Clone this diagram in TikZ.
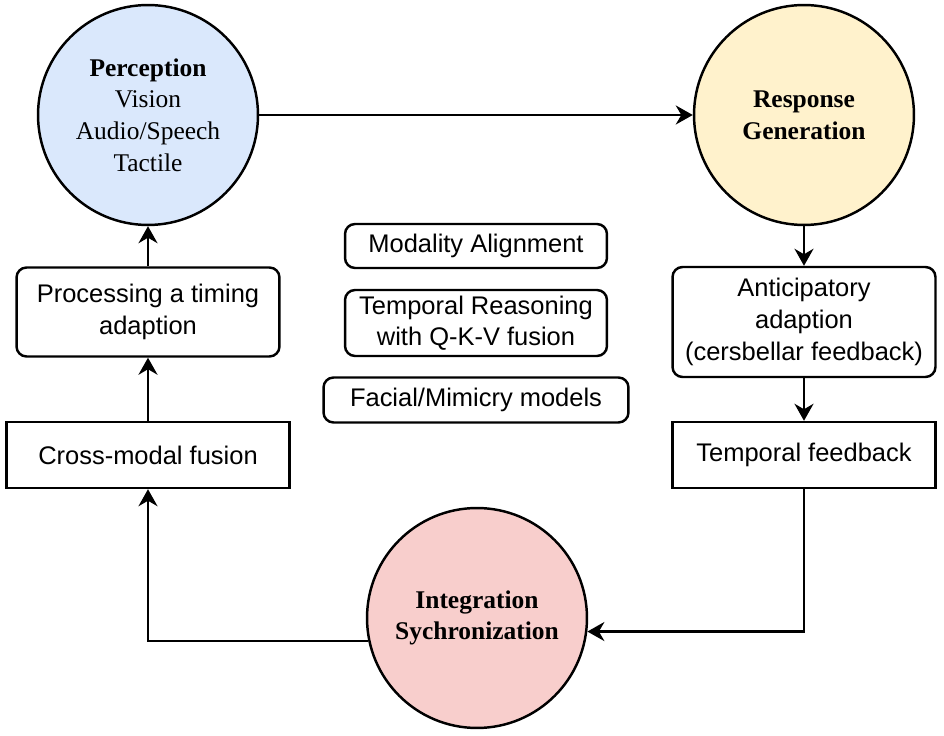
\documentclass[tikz,border=0pt]{standalone}
\usepackage{fontspec}
\setmainfont{Liberation Serif}
\setsansfont{Liberation Sans}
\usetikzlibrary{arrows.meta}
\definecolor{percblue}{HTML}{DAE8FC}
\definecolor{respyellow}{HTML}{FFF2CC}
\definecolor{integred}{HTML}{F8CECC}

\begin{document}
\begin{tikzpicture}[x=0.02cm,y=-0.02cm,line width=1.4pt,
  arr/.style={line width=1.4pt,-{Stealth[length=3.4mm,width=3.8mm,inset=1.1mm]}},
  stage/.style={circle,draw,line width=1.4pt,minimum size=4.4cm,inner sep=0pt,align=center,
    font=\fontsize{14.5}{18}\selectfont},
  rbox/.style={draw,rounded corners=2mm,line width=1.4pt,inner sep=0pt,align=center,
    font=\sffamily\fontsize{14.5}{18}\selectfont},
  sbox/.style={draw,line width=1.4pt,inner sep=0pt,align=center,
    font=\sffamily\fontsize{14.5}{18}\selectfont}]
\useasboundingbox (0,0) rectangle (944,736);
% ---------- stages ----------
\node[stage,fill=percblue] (perc) at (148,115) {\textbf{Perception}\\Vision\\Audio/Speech\\Tactile};
\node[stage,fill=respyellow] (resp) at (804,115) {\textbf{Response}\\\textbf{Generation}};
\node[stage,fill=integred] (integ) at (477,618) {\textbf{Integration}\\\textbf{Sychronization}};
% ---------- left column ----------
\node[rbox,minimum width=5.26cm,minimum height=1.78cm] (proc) at (148,312) {Processing a timing\\adaption};
\node[sbox,minimum width=5.66cm,minimum height=1.32cm] (cross) at (148,455) {Cross-modal fusion};
% ---------- right column ----------
\node[rbox,minimum width=5.26cm,minimum height=2.2cm] (antic) at (804,322) {Anticipatory\\adaption\\(cersbellar feedback)};
\node[sbox,minimum width=5.26cm,minimum height=1.32cm] (tfb) at (804,455) {Temporal feedback};
% ---------- middle ----------
\node[rbox,minimum width=5.24cm,minimum height=0.88cm] (align) at (476,246) {Modality Alignment};
\node[rbox,minimum width=5.24cm,minimum height=1.32cm] (reason) at (476,323) {Temporal Reasoning\\with Q-K-V fusion};
\node[rbox,minimum width=6.1cm,minimum height=0.9cm] (mimic) at (476,400) {Facial/Mimicry models};
% ---------- connectors ----------
\draw[arr] (perc) -- (resp);
\draw[arr] (resp) -- (antic);
\draw[arr] (antic) -- (tfb);
\draw[arr] (tfb.south) |- (integ.-7);
\draw[arr] (integ.-168) -| (cross.south);
\draw[arr] (cross) -- (proc);
\draw[arr] (proc) -- (perc);
\end{tikzpicture}
\end{document}
